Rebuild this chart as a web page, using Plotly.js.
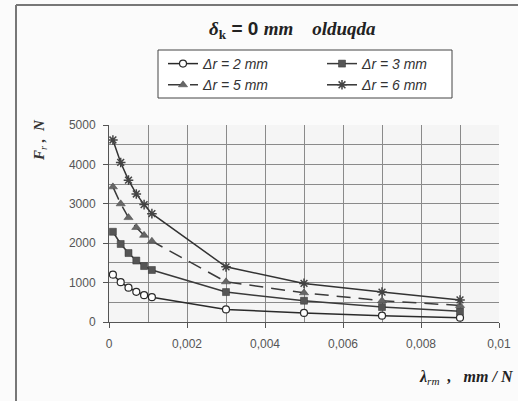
<!DOCTYPE html>
<html>
<head>
<meta charset="utf-8">
<script src="https://cdn.plot.ly/plotly-3.0.1.min.js"></script>
<style>html,body{margin:0;padding:0;background:#fbfbfb;overflow:hidden;}#chart{width:518px;height:401px;}</style>
</head>
<body>
<div id="chart"></div>
<script>
// lambda_rm values (mm/N)
var lambdaRm = [0.0001, 0.0003, 0.0005, 0.0007, 0.0009, 0.0011, 0.003, 0.005, 0.007, 0.009];
// F_r values (N) per Δr
var fDr2 = [1200, 1010, 870, 765, 680, 630, 320, 230, 160, 110];
var fDr3 = [2290, 1980, 1750, 1560, 1420, 1320, 760, 540, 380, 270];
var fDr5 = [3430, 3000, 2650, 2400, 2200, 2050, 1020, 740, 540, 420];
var fDr6 = [4620, 4050, 3600, 3250, 2980, 2750, 1400, 980, 760, 560];
var seriesNames = ['Δr = 2 mm', 'Δr = 3 mm', 'Δr = 5 mm', 'Δr = 6 mm'];
var xTickVals = [0, 0.002, 0.004, 0.006, 0.008, 0.01];
var xTickText = ['0', '0,002', '0,004', '0,006', '0,008', '0,01'];
var yTickVals = [0, 1000, 2000, 3000, 4000, 5000];

// pixel helpers for paper coords (plot area 109..499 x, 125..322 y)
function px(x){ return (x - 109) / 390; }
function py(y){ return (322 - y) / 197; }

var traces = [
  {x: lambdaRm, y: fDr2, name: seriesNames[0], mode: 'lines+markers', legend: 'legend',
   line: {color: '#2a2a2a', width: 1.5},
   marker: {symbol: 'circle', size: 7, color: '#ffffff', line: {color: '#2a2a2a', width: 1.2}}},
  {x: lambdaRm, y: fDr3, name: seriesNames[1], mode: 'lines+markers', legend: 'legend2',
   line: {color: '#3a3a3a', width: 1.5},
   marker: {symbol: 'square', size: 7, color: '#555555', line: {color: '#333333', width: 0.5}}},
  {x: lambdaRm, y: fDr5, name: seriesNames[2], mode: 'lines+markers', legend: 'legend',
   line: {color: '#3a3a3a', width: 1.5, dash: '14px,8px'},
   marker: {symbol: 'triangle-up', size: 8, color: '#666666', line: {color: '#444444', width: 0.5}}},
  {x: lambdaRm, y: fDr6, name: seriesNames[3], mode: 'lines+markers', legend: 'legend2',
   line: {color: '#333333', width: 1.5},
   marker: {symbol: 'asterisk-open', size: 8, color: '#444444', line: {color: '#444444', width: 1.5}}}
];

var legendFont = {family: 'Liberation Sans, Arial, sans-serif', size: 14, color: '#333', style: 'italic'};

var layout = {
  width: 518, height: 401,
  margin: {l: 109, r: 19, t: 125, b: 79, pad: 0, autoexpand: false},
  paper_bgcolor: '#fbfbfb',
  plot_bgcolor: '#f5f5f5',
  showlegend: true,
  font: {family: 'Liberation Sans, Arial, sans-serif', size: 12, color: '#333'},
  xaxis: {
    range: [0, 0.01], tickvals: xTickVals, ticktext: xTickText,
    showgrid: true, gridcolor: '#8a8a8a', gridwidth: 1,
    minor: {dtick: 0.001, tick0: 0, showgrid: true, gridcolor: '#8a8a8a', gridwidth: 1},
    ticks: 'outside', ticklen: 5, tickcolor: '#555',
    showline: true, linecolor: '#555', linewidth: 1,
    zeroline: false, ticklabelstandoff: 6,
    tickfont: {family: 'Liberation Sans, Arial, sans-serif', size: 12, color: '#555'}
  },
  yaxis: {
    range: [0, 5000], tickvals: yTickVals,
    showgrid: true, gridcolor: '#8a8a8a', gridwidth: 1,
    minor: {dtick: 500, tick0: 0, showgrid: true, gridcolor: '#8a8a8a', gridwidth: 1},
    ticks: 'outside', ticklen: 5, tickcolor: '#555',
    showline: true, linecolor: '#555', linewidth: 1,
    zeroline: false, ticklabelstandoff: 5,
    tickfont: {family: 'Liberation Sans, Arial, sans-serif', size: 12, color: '#555'}
  },
  legend: {
    orientation: 'v', x: px(163), y: py(48), xanchor: 'left', yanchor: 'top',
    bgcolor: 'rgba(0,0,0,0)', borderwidth: 0, tracegroupgap: 0, itemwidth: 30,
    font: legendFont
  },
  legend2: {
    orientation: 'v', x: px(322), y: py(48), xanchor: 'left', yanchor: 'top',
    bgcolor: 'rgba(0,0,0,0)', borderwidth: 0, tracegroupgap: 0, itemwidth: 30,
    font: legendFont
  },
  shapes: [
    {type: 'line', xref: 'paper', yref: 'paper', x0: px(16), x1: px(16), y0: py(401), y1: py(5),
     line: {color: '#777', width: 2}, layer: 'below'},
    {type: 'line', xref: 'paper', yref: 'paper', x0: px(16), x1: px(518), y0: py(5), y1: py(5),
     line: {color: '#777', width: 2}, layer: 'below'},
    {type: 'rect', xref: 'paper', yref: 'paper', x0: px(158), x1: px(452), y0: py(98), y1: py(50),
     line: {color: '#444', width: 1}, fillcolor: '#ffffff', layer: 'above'}
  ],
  annotations: [
    {xref: 'paper', yref: 'paper', x: px(292), y: py(30), xanchor: 'center', yanchor: 'middle', showarrow: false,
     text: '<b><i>δ</i></b><sub><b>k</b></sub><b><span style="font-family:Liberation Sans,Arial,sans-serif"> = 0 </span><i>mm    olduqda</i></b>',
     font: {family: 'Liberation Serif, Times New Roman, serif', size: 19, color: '#222'}},
    {xref: 'paper', yref: 'paper', x: px(40), y: py(140), xanchor: 'center', yanchor: 'middle', showarrow: false,
     textangle: -90,
     text: '<b><i>F</i></b><sub><i>r</i></sub><b><i> ,  N</i></b>',
     font: {family: 'Liberation Serif, Times New Roman, serif', size: 15, color: '#333'}},
    {xref: 'paper', yref: 'paper', x: px(516), y: py(377), xanchor: 'right', yanchor: 'middle', showarrow: false,
     text: '<b><i>λ</i></b><sub><i>rm</i></sub><b><i>  ,   mm / N</i></b>',
     font: {family: 'Liberation Serif, Times New Roman, serif', size: 16, color: '#222'}}
  ]
};

Plotly.newPlot('chart', traces, layout, {displayModeBar: false, staticPlot: true});
</script>
</body>
</html>
